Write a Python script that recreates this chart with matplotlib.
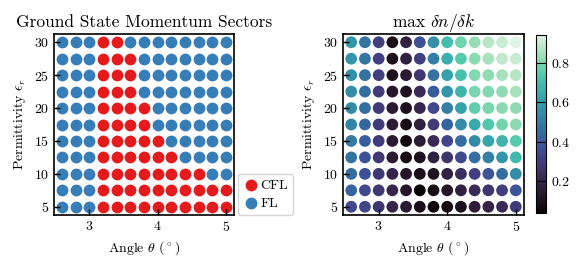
import numpy as np
import matplotlib
matplotlib.use("Agg")
import matplotlib.pyplot as plt
import seaborn as sns

plt.rcParams['font.family'] = 'serif'
plt.rcParams['font.serif'] = ['cmr10']
plt.rcParams['mathtext.fontset'] = 'cm'
plt.rcParams['axes.formatter.use_mathtext'] = True
plt.rcParams['axes.unicode_minus'] = False

# angle (deg) and permittivity grid
angles = [2.6, 2.8, 3.0, 3.2, 3.4, 3.6, 3.8, 4.0, 4.2, 4.4, 4.6, 4.8, 5.0]
eps = [5, 7.5, 10, 12.5, 15, 17.5, 20, 22.5, 25, 27.5, 30]

# number of CFL sites per row (starting at theta=3.2), bottom to top
cfl_count = [10, 10, 8, 6, 5, 4, 4, 3, 3, 3, 2]
cfl_start = 3.2

# max dn/dk, rows bottom (eps=5) to top (eps=30)
dndk = [
    [0.34, 0.33, 0.27, 0.20, 0.15, 0.09, 0.06, 0.07, 0.10, 0.16, 0.19, 0.22, 0.29],
    [0.42, 0.34, 0.28, 0.20, 0.13, 0.04, 0.08, 0.13, 0.18, 0.22, 0.27, 0.31, 0.38],
    [0.45, 0.36, 0.28, 0.20, 0.13, 0.09, 0.11, 0.18, 0.24, 0.31, 0.38, 0.45, 0.54],
    [0.47, 0.37, 0.28, 0.15, 0.08, 0.11, 0.18, 0.27, 0.34, 0.45, 0.51, 0.58, 0.69],
    [0.49, 0.40, 0.29, 0.15, 0.06, 0.15, 0.22, 0.33, 0.45, 0.54, 0.63, 0.67, 0.74],
    [0.52, 0.43, 0.29, 0.15, 0.08, 0.18, 0.29, 0.42, 0.54, 0.64, 0.73, 0.78, 0.81],
    [0.54, 0.45, 0.29, 0.15, 0.10, 0.20, 0.34, 0.51, 0.61, 0.76, 0.79, 0.81, 0.82],
    [0.55, 0.45, 0.29, 0.13, 0.11, 0.22, 0.40, 0.58, 0.67, 0.79, 0.80, 0.82, 0.85],
    [0.56, 0.46, 0.31, 0.10, 0.15, 0.27, 0.46, 0.62, 0.71, 0.80, 0.82, 0.85, 0.87],
    [0.58, 0.47, 0.31, 0.10, 0.18, 0.31, 0.51, 0.65, 0.74, 0.81, 0.85, 0.89, 0.90],
    [0.58, 0.47, 0.31, 0.09, 0.18, 0.36, 0.56, 0.70, 0.78, 0.83, 0.87, 0.90, 0.94],
]

red = '#e41a1c'
blue = '#377eb8'

X, Y = np.meshgrid(angles, eps)
is_cfl = np.zeros(X.shape, dtype=bool)
for i, n in enumerate(cfl_count):
    a = np.array(angles)
    is_cfl[i] = (a >= cfl_start - 1e-9) & (a < cfl_start + 0.2 * n - 1e-9)

fig = plt.figure(figsize=(5.81, 2.65), dpi=100)
ax1 = fig.add_axes([54/581, 50/265, 180/581, 181/265])
ax2 = fig.add_axes([343/581, 50/265, 181/581, 181/265])
cax = fig.add_axes([536/581, 52/265, 10/581, 178/265])

s = 72
ax1.scatter(X[is_cfl], Y[is_cfl], s=s, c=red, linewidths=0, label='CFL')
ax1.scatter(X[~is_cfl], Y[~is_cfl], s=s, c=blue, linewidths=0, label='FL')
ax1.set_title('Ground State Momentum Sectors', fontsize=12.5, pad=5)
leg = ax1.legend(loc='lower left', bbox_to_anchor=(1.02, 0.0), fontsize=10,
                 handletextpad=0.1, borderpad=0.35, handlelength=1.2,
                 borderaxespad=0, markerscale=1.0, labelspacing=0.4)

sc = ax2.scatter(X.ravel(), Y.ravel(), s=s, c=np.array(dndk).ravel(),
                 cmap=sns.color_palette('mako', as_cmap=True), linewidths=0)
ax2.set_title(r'max $\delta n/\delta k$', fontsize=12.5, pad=5)
cb = fig.colorbar(sc, cax=cax)
cb.set_ticks([0.2, 0.4, 0.6, 0.8])
cb.ax.tick_params(labelsize=10, direction='in', length=7, color='k')
cb.outline.set_linewidth(0.8)

for ax in (ax1, ax2):
    ax.set_xticks([3, 4, 5])
    ax.set_yticks([5, 10, 15, 20, 25, 30])
    ax.set_xlabel(r'Angle $\theta$ $(^\circ)$', fontsize=10)
    ax.set_ylabel(r'Permittivity $\epsilon_r$', fontsize=10)
    ax.tick_params(direction='in', length=4, width=1, labelsize=10)
    for sp in ax.spines.values():
        sp.set_linewidth(1.2)

fig.savefig('out.png', dpi=100)
